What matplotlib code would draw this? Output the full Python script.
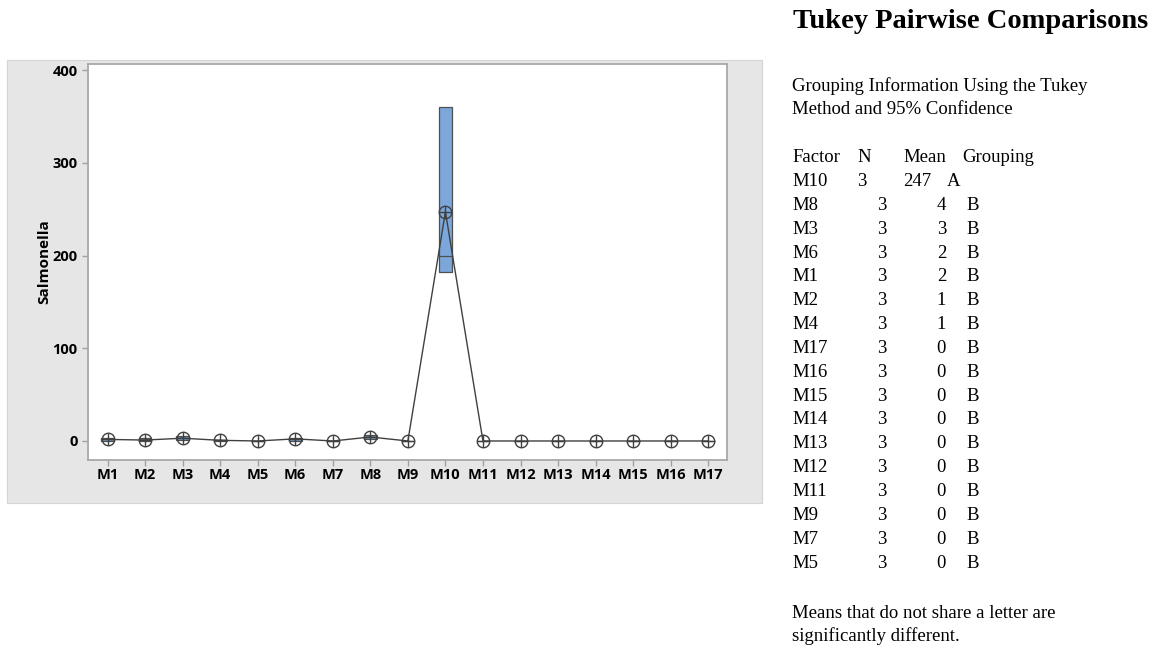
import matplotlib
matplotlib.use('Agg')
from matplotlib import pyplot as plt
from matplotlib.patches import Rectangle

# group labels and summary values (Salmonella counts)
groups = ['M%d' % i for i in range(1, 18)]
means = [1.7, 1.0, 3.0, 0.7, 0.0, 2.3, 0.0, 4.3, 0.0, 247.0,
         0.0, 0.0, 0.0, 0.0, 0.0, 0.0, 0.0]
q1 = [0.0, 0.0, 1.5, 0.0, 0.0, 0.0, 0.0, 2.5, 0.0, 182.0,
      0.0, 0.0, 0.0, 0.0, 0.0, 0.0, 0.0]
medians = [2.0, 1.0, 3.0, 1.0, 0.0, 2.0, 0.0, 4.0, 0.0, 200.0,
           0.0, 0.0, 0.0, 0.0, 0.0, 0.0, 0.0]
q3 = [3.5, 3.0, 5.0, 1.5, 0.0, 3.5, 0.0, 6.0, 0.0, 360.0,
      0.0, 0.0, 0.0, 0.0, 0.0, 0.0, 0.0]

# Tukey grouping table
table_order = ['M10', 'M8', 'M3', 'M6', 'M1', 'M2', 'M4', 'M17', 'M16',
               'M15', 'M14', 'M13', 'M12', 'M11', 'M9', 'M7', 'M5']
table_n = [3] * 17
table_groups = ['A'] + ['B'] * 16
yticks = [0, 100, 200, 300, 400]

W, H = 1160, 647
fig = plt.figure(figsize=(W / 100, H / 100), dpi=100)
fig.patch.set_facecolor('white')

# grey frame behind the graph
fig.patches.append(Rectangle((7 / W, 1 - 503 / H), (762 - 7) / W, (503 - 60) / H,
                             transform=fig.transFigure, facecolor='#e6e6e6',
                             edgecolor='#d4d4d4', linewidth=0.8, zorder=-1))

ax = fig.add_axes([88 / W, 1 - 460 / H, (727 - 88) / W, (460 - 64) / H])
ax.set_zorder(1)
ax.set_facecolor('white')
for s in ax.spines.values():
    s.set_color('#a8a8a8')
    s.set_linewidth(1.3)

x = list(range(1, 18))
heights = [b - a for a, b in zip(q1, q3)]
ax.bar(x, heights, bottom=q1, width=0.34, color='#7ba7db',
       edgecolor='#505050', linewidth=0.9, zorder=2)
for xi, md, lo, hi in zip(x, medians, q1, q3):
    if hi > lo:
        ax.plot([xi - 0.17, xi + 0.17], [md, md], color='#505050', lw=0.9, zorder=3)

ax.plot(x, means, color='#404040', lw=1.0, zorder=4)
ax.plot(x, means, 'o', ms=9, mfc='none', mec='#404040', mew=1.0, zorder=5)
ax.plot(x, means, '+', ms=9, mec='#404040', mew=1.0, zorder=5)

ax.set_xlim(0.48, 17.5)
ax.set_ylim(-20.5, 406.5)
ax.set_xticks(x)
ax.set_xticklabels(groups)
ax.set_yticks(yticks)
ax.tick_params(axis='both', colors='#a0a0a0', length=4, width=1,
               labelcolor='black', labelsize=10.5)
ax.tick_params(axis='x', pad=2)
for lab in ax.get_xticklabels() + ax.get_yticklabels():
    lab.set_fontfamily('Open Sans')
    lab.set_fontweight('bold')
ax.set_ylabel('Salmonella', fontsize=11, fontweight='bold',
              fontfamily='Open Sans', labelpad=1)

# text panel on the right
serif = 'Liberation Serif'
def put(px, py, s, **kw):
    kw.setdefault('fontsize', 13.5)
    fig.text(px / W, 1 - py / H, s, family=serif, va='center', **kw)

put(793, 22, 'Tukey Pairwise Comparisons', fontsize=20.5, fontweight='bold')
put(792, 86, 'Grouping Information Using the Tukey')
put(792, 109, 'Method and 95% Confidence')

put(792, 157, 'Factor')
put(857, 157, 'N')
put(903, 157, 'Mean')
put(962, 157, 'Grouping')

row_y = 181.5
for i, (name, n, g) in enumerate(zip(table_order, table_n, table_groups)):
    m = means[groups.index(name)]
    yy = row_y + i * 23.85
    put(792, yy, name)
    if i == 0:
        put(857, yy, str(n))
        put(903, yy, '%.0f' % m)
        put(947, yy, g)
    else:
        put(886, yy, str(n), ha='right')
        put(946, yy, '%.0f' % m, ha='right')
        put(966, yy, g)

put(792, 613, 'Means that do not share a letter are')
put(792, 636, 'significantly different.')

fig.savefig('out.png', dpi=100)
